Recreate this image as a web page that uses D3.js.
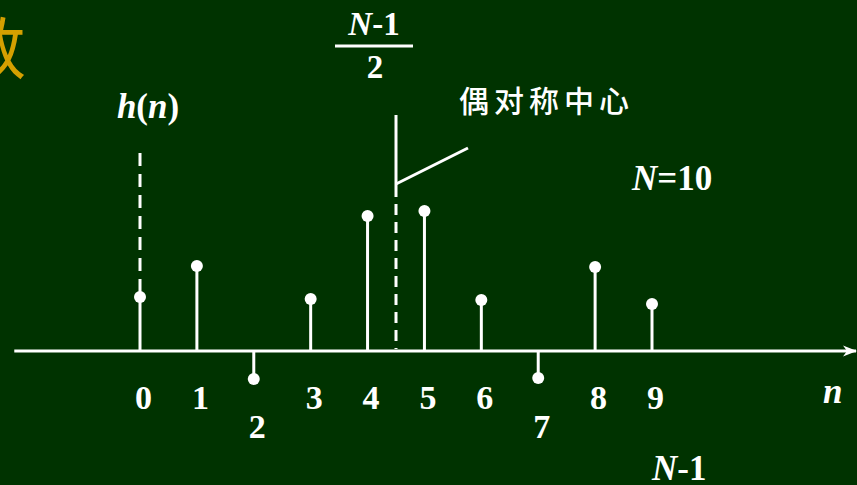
<!DOCTYPE html>
<html>
<head>
<meta charset="utf-8">
<script src="https://cdn.jsdelivr.net/npm/d3@7"></script>
<style>
  html, body { margin: 0; padding: 0; background: #003300; overflow: hidden; }
  svg { display: block; }
</style>
</head>
<body>
<div id="chart"></div>
<script>
// h(n) for N = 10
var N = 10;
var nValues = [0, 1, 2, 3, 4, 5, 6, 7, 8, 9];
var hValues = [0.54, 0.85, -0.28, 0.52, 1.35, 1.40, 0.51, -0.27, 0.84, 0.47];
var tickLabels = ['0', '1', '2', '3', '4', '5', '6', '7', '8', '9'];
var hAxisTop = 1.98;   // top of the dashed h(n) axis
var center = (N - 1) / 2;

var width = 857, height = 485;
var serif = '"Liberation Serif", "Times New Roman", serif';

var x = d3.scaleLinear().domain([0, 9]).range([140, 652]);
var y = d3.scaleLinear().domain([0, 1]).range([351, 251]);

var svg = d3.select('#chart').append('svg')
    .attr('width', width).attr('height', height);

svg.append('rect').attr('width', width).attr('height', height).attr('fill', '#003300');

// arrow head for the n axis
svg.append('defs').append('marker')
    .attr('id', 'arrow')
    .attr('viewBox', '0 0 14 12')
    .attr('refX', 13).attr('refY', 6)
    .attr('markerWidth', 14).attr('markerHeight', 12)
    .attr('markerUnits', 'userSpaceOnUse')
    .attr('orient', 'auto')
    .append('path')
    .attr('d', 'M0,0.5 L14,6 L0,11.5 L4,6 Z')
    .attr('fill', '#fff');

// partial title character at top left (cut by the edge, as in the slide)
svg.append('text')
    .attr('x', 26).attr('y', 74)
    .attr('text-anchor', 'end')
    .attr('font-family', '"Noto Sans CJK SC", sans-serif')
    .attr('font-size', 68)
    .attr('fill', '#d4a000')
    .text('数');

// horizontal n axis
svg.append('line')
    .attr('x1', x(-2.21)).attr('x2', width - 1)
    .attr('y1', y(0)).attr('y2', y(0))
    .attr('stroke', '#fff').attr('stroke-width', 3)
    .attr('marker-end', 'url(#arrow)');

// dashed h(n) axis above n = 0
svg.append('line')
    .attr('x1', x(0)).attr('x2', x(0))
    .attr('y1', y(hAxisTop)).attr('y2', y(hValues[0]))
    .attr('stroke', '#fff').attr('stroke-width', 3)
    .attr('stroke-dasharray', '13,8');

// tick labels through the axis generator
var axis = svg.append('g')
    .attr('transform', 'translate(0,' + y(0) + ')')
    .call(d3.axisBottom(x).tickValues(nValues).tickSize(0)
        .tickFormat(function(d, i) { return tickLabels[i]; }));
axis.select('.domain').remove();
axis.selectAll('text')
    .attr('fill', '#fff')
    .attr('font-family', serif)
    .attr('font-weight', 'bold')
    .attr('font-size', 34)
    .attr('dx', 3)
    .attr('dy', null)
    .attr('y', function(d, i) { return hValues[i] < 0 ? 87 : 58; });

// stems
svg.selectAll('.stem')
    .data(nValues)
    .enter().append('line')
    .attr('class', 'stem')
    .attr('x1', function(d) { return x(d); })
    .attr('x2', function(d) { return x(d); })
    .attr('y1', y(0))
    .attr('y2', function(d, i) { return y(hValues[i]); })
    .attr('stroke', '#fff').attr('stroke-width', 3);

svg.selectAll('.dot')
    .data(nValues)
    .enter().append('circle')
    .attr('class', 'dot')
    .attr('cx', function(d) { return x(d); })
    .attr('cy', function(d, i) { return y(hValues[i]); })
    .attr('r', 6)
    .attr('fill', '#fff');

// centre of even symmetry at (N-1)/2
svg.append('line')
    .attr('x1', x(center)).attr('x2', x(center))
    .attr('y1', 115).attr('y2', 197)
    .attr('stroke', '#fff').attr('stroke-width', 3);
svg.append('line')
    .attr('x1', x(center)).attr('x2', x(center))
    .attr('y1', 204).attr('y2', y(0) - 2)
    .attr('stroke', '#fff').attr('stroke-width', 3)
    .attr('stroke-dasharray', '11,7');
svg.append('line')
    .attr('x1', x(center)).attr('y1', 184)
    .attr('x2', 468).attr('y2', 148)
    .attr('stroke', '#fff').attr('stroke-width', 3);

// (N-1)/2 fraction
var frac = svg.append('g')
    .attr('font-family', serif).attr('font-weight', 'bold')
    .attr('font-size', 33).attr('fill', '#fff')
    .attr('text-anchor', 'middle');
var t1 = frac.append('text').attr('x', 374).attr('y', 35);
t1.append('tspan').attr('font-style', 'italic').text('N');
t1.append('tspan').text('-1');
frac.append('line')
    .attr('x1', 335).attr('x2', 413).attr('y1', 46).attr('y2', 46)
    .attr('stroke', '#fff').attr('stroke-width', 3);
frac.append('text').attr('x', 375).attr('y', 78).text('2');

svg.append('text')
    .attr('x', 459).attr('y', 112)
    .attr('font-family', '"Noto Sans CJK SC", sans-serif')
    .attr('font-weight', 500)
    .attr('font-size', 30)
    .attr('letter-spacing', 5)
    .attr('fill', '#fff')
    .text('偶对称中心');

// other labels
var lbl = svg.append('g')
    .attr('font-family', serif).attr('font-weight', 'bold')
    .attr('font-size', 35).attr('fill', '#fff');

var hn = lbl.append('text').attr('x', x(0) + 8).attr('y', 118).attr('text-anchor', 'middle');
hn.append('tspan').attr('font-style', 'italic').text('h');
hn.append('tspan').text('(');
hn.append('tspan').attr('font-style', 'italic').text('n');
hn.append('tspan').text(')');

var nEq = lbl.append('text').attr('x', 632).attr('y', 190);
nEq.append('tspan').attr('font-style', 'italic').text('N');
nEq.append('tspan').text('=' + N);

lbl.append('text').attr('x', 823).attr('y', 403)
    .attr('font-style', 'italic').text('n');

var nm1 = lbl.append('text').attr('x', 652).attr('y', 480);
nm1.append('tspan').attr('font-style', 'italic').text('N');
nm1.append('tspan').text('-1');
</script>
</body>
</html>
